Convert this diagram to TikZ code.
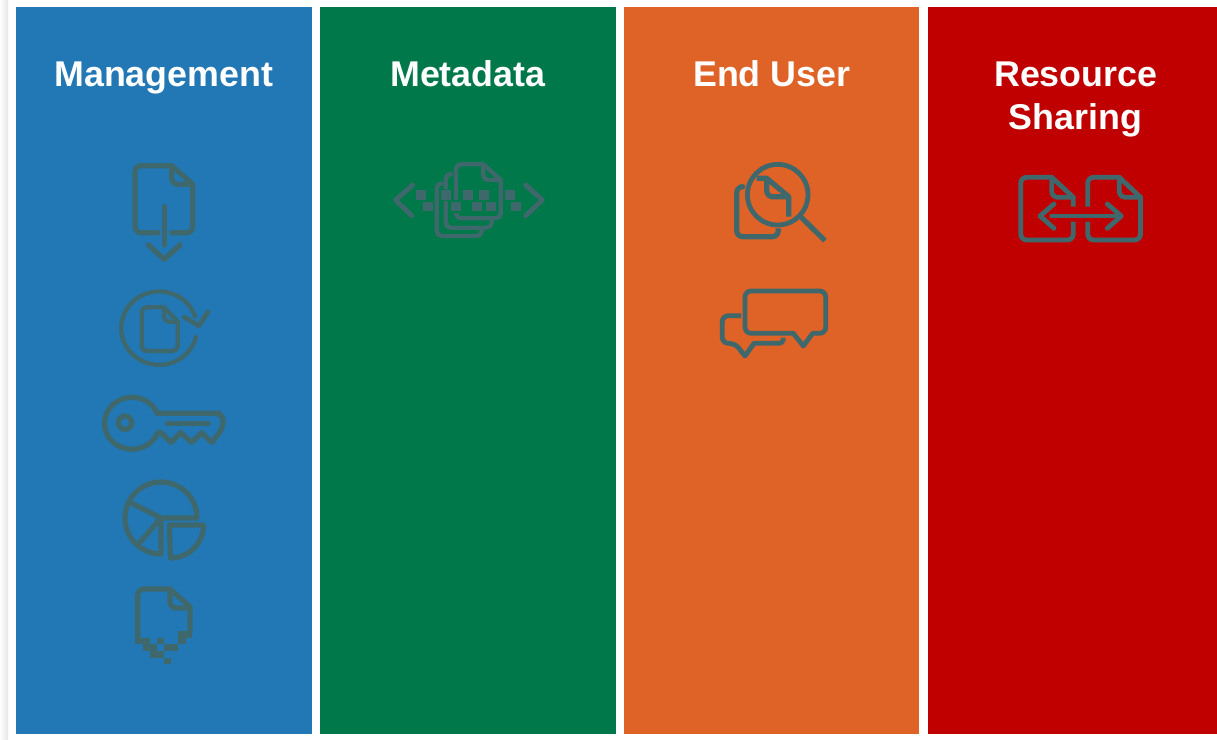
\documentclass[tikz,border=0pt]{standalone}
\usepackage{fontspec}
\setmainfont{Liberation Sans}
\definecolor{cblue}{HTML}{2277B5}
\definecolor{cgreen}{HTML}{00784A}
\definecolor{corange}{HTML}{DF6226}
\definecolor{cred}{HTML}{C00000}
\definecolor{icon}{HTML}{3F686C}
\tikzset{
  column/.style={fill=#1,draw=none},
  title/.style={text=white,font=\fontsize{35.8}{43}\selectfont\bfseries,inner sep=0pt,align=center,anchor=base},
  ic/.style={draw=icon,line width=5.2pt,line cap=round,line join=round},
  icmid/.style={ic,line width=4.8pt},
  icthin/.style={ic,line width=4.3pt},
  pix/.style={fill=icon,draw=none}
}
\begin{document}
\begin{tikzpicture}[x=1pt,y=-1pt]
\useasboundingbox (0,0) rectangle (1217,739);
\fill[white] (0,0) rectangle (1217,739);
\shade[left color=white,right color=black!10] (0,0) rectangle (8,739);
\fill[column=cblue] (16,7) rectangle (312,734);
\fill[column=cgreen] (320,7) rectangle (615.5,734);
\fill[column=corange] (624,7) rectangle (919,734);
\fill[column=cred] (928,7) rectangle (1217,734);
\node[title] (tm) at (163.7,86) {Management};
\node[title] (tg) at (467.8,86) {Metadata};
\node[title] (te) at (771.8,86) {End User};
\node[title] (tr) at (1075.8,86) {Resource};
\node[title] (ts) at (1075.5,129) {Sharing};

% document with download arrow
\draw[ic] (158,232.7) [rounded corners=6] -- (135,232.7) -- (135,165.7) [sharp corners] -- (171.7,165.7) -- (192.7,184.3) [rounded corners=6] -- (192.7,232.7) -- (171.7,232.7);
\draw[ic] (171.7,165.7) [rounded corners=6] -- (171.7,184.3) [sharp corners] -- (192.7,184.3);
\draw[ic] (164.3,206.7) -- (164.3,245);
\draw[ic] (148.3,245) -- (164.3,259.3) -- (180,245);

% document in renewal circle
\draw[icthin] (195.2,316.5) arc[start angle=-18.5,end angle=-346,x radius=38,y radius=36.7];
\draw[icmid] (184.3,317.3) -- (199,325.7) -- (208,312);
\draw[icthin] (164,307.3) [rounded corners=5] -- (141.7,307.3) -- (141.7,351) -- (177.7,351) [sharp corners] -- (177.7,321.7) -- cycle;
\draw[icthin] (164,307.3) [rounded corners=5] -- (164,321.7) [sharp corners] -- (177.7,321.7);

% key
\draw[ic] (157.4,413.3) arc[start angle=-22.6,end angle=-337.4,x radius=27.5,y radius=26];
\draw[ic] (157.4,413.3) [rounded corners=8] -- (211.7,413.3) -- (223.3,413.3) -- (223.3,428.3) [sharp corners] -- (211.7,442.3) -- (201.7,432.7) -- (191.7,442.3) -- (180.7,432.7) -- (171,442.3) -- (160,431.7) -- (157.4,433.3);
\draw[ic] (167.3,423.3) -- (208.3,423.3);
\draw[ic] (125,422.7) circle[radius=6.7];

% pie chart
\draw[ic] (197,518) arc[start angle=0,end angle=-270,radius=36] -- (161,518) -- cycle;
\draw[ic] (161,518) -- (130,502.3);
\draw[ic] (161,518) -- (140,542.3);
\draw[ic] (169.3,525) -- (203.5,525) arc[start angle=0,end angle=90,radius=33] -- cycle;

% document with pixel tail
\draw[ic,line cap=butt] (137.7,641.7) [rounded corners=6] -- (137.7,589) [sharp corners] -- (170,589) -- (190,606.7) -- (190,633);
\draw[ic] (170,589) [rounded corners=6] -- (170,608) [sharp corners] -- (190,608);
\foreach \xa/\ya/\xb/\yb in {135/758/180/778,200/758/222/778,160/778/200/798,222/778/265/798,180/798/222/818,222/818/243/838,265/738/305/758,265/758/288/778}{
  \fill[pix] ({90+\xa/3},{385+\ya/3}) rectangle ({90+\xb/3},{385+\yb/3});
}

% metadata icon
\draw[icmid] (412.7,185) -- (395.7,200) -- (411.7,215.7);
\draw[icmid] (525.7,185) -- (542.3,200) -- (525.7,215.7);
\draw[icthin] (483.3,164.3) [rounded corners=5] -- (456,164.3) -- (456,218.3) -- (500.7,218.3) [sharp corners] -- (500.7,180) -- cycle;
\draw[icthin] (483.3,164.3) [rounded corners=5] -- (483.3,180) [sharp corners] -- (500.7,180);
\draw[icthin] (451,174) [rounded corners=5] -- (445.7,174) -- (445.7,227.7) -- (491.7,227.7) -- (491.7,221.7);
\draw[icthin] (441.7,183.3) [rounded corners=5] -- (436.7,183.3) -- (436.7,236) -- (481.7,236) -- (481.7,231.7);
\foreach \zx/\zy in {123/135,198/135,263/135,313/135,390/135,143/170,228/170,291/170,333/170,407/170}{
  \fill[cgreen] ({380+(\zx-20)/3},{150+(\zy-19)/3}) rectangle ({380+(\zx+20)/3},{150+(\zy+19)/3});
  \fill[pix] ({380+(\zx-15)/3},{150+(\zy-14)/3}) rectangle ({380+(\zx+15)/3},{150+(\zy+14)/3});
}

% magnifier
\draw[icmid] (777.7,194.7) circle[radius=30.3];
\draw[ic,line cap=butt] (800.7,216.7) -- (825,240.7);
\draw[ic,line cap=butt] (742.3,186.7) [rounded corners=6] -- (736.7,186.7) -- (736.7,236.7) -- (778.3,236.7) -- (778.3,228.3);
\draw[ic,line cap=butt] (756.7,178.3) -- (766.7,178.3) -- (788.7,196.7) -- (788.7,216.7);
\draw[ic,line cap=butt] (766.7,178.3) [rounded corners=6] -- (766.7,196.7) [sharp corners] -- (788.7,196.7);

% chat bubbles
\draw[icmid] (793.3,333.3) -- (803.3,346) -- (812.7,333.3) [rounded corners=6] -- (825.7,333.3) -- (825.7,291) -- (745,291) -- (745,333.3) [sharp corners] -- (793.3,333.3) -- cycle;
\draw[icmid,line cap=butt] (741,315.7) [rounded corners=6] -- (722.3,315.7) -- (722.3,343.3) -- (735,343.3) [sharp corners] -- (745,356) -- (754,343.3) [rounded corners=4] -- (783.3,343.3) -- (783.3,337.7);

% shared documents
\draw[icmid,line cap=butt] (1073.3,206.7) -- (1073.3,197.3) -- (1051.7,177.3) [rounded corners=6] -- (1020.7,177.3) -- (1020.7,240) -- (1073.3,240) -- (1073.3,221.7);
\draw[icmid] (1051.7,177.3) [rounded corners=6] -- (1051.7,197.3) [sharp corners] -- (1073.3,197.3);
\draw[icmid,line cap=butt] (1087.7,206.7) [rounded corners=6] -- (1087.7,177.3) [sharp corners] -- (1119.3,177.3) -- (1140.5,197.3) [rounded corners=6] -- (1140.5,240) -- (1087.7,240) -- (1087.7,221.7);
\draw[icmid] (1119.3,177.3) [rounded corners=6] -- (1119.3,197.3) [sharp corners] -- (1140.5,197.3);
\draw[icmid] (1051.7,216) -- (1118,216);
\draw[icmid] (1054,204) -- (1040,216) -- (1054,228.3);
\draw[icmid] (1107.3,204) -- (1121.3,216) -- (1107.3,228.3);
\end{tikzpicture}
\end{document}
